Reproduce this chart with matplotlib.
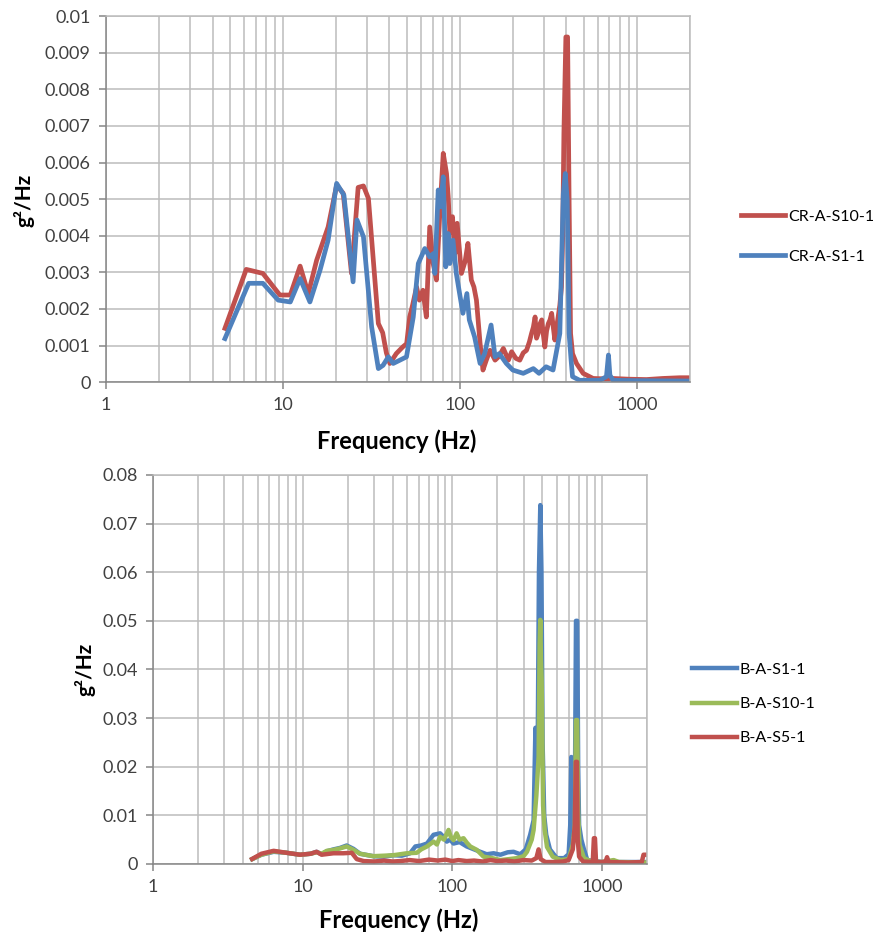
import matplotlib
matplotlib.use("Agg")
import matplotlib.pyplot as plt
from matplotlib.ticker import FixedLocator, FuncFormatter, LogLocator, NullFormatter

plt.rcParams["font.family"] = ["Lato", "DejaVu Sans"]

# upper chart: CR-A runs
cr_s10_freq = [4.7, 6.2, 7.7, 9.6, 11.0, 12.5, 13.9, 15.5, 18.0, 20.1, 21.9, 24.4, 26.6, 28.5,
               30.4, 34.6, 36.6, 38.4, 40.2, 43.7, 47.5, 50, 52, 54, 56.9, 59, 61.8, 64.6, 67.5,
               70.6, 73.7, 77, 80.5, 84, 85.9, 87.7, 90.8, 93.6, 96.5, 102, 107, 111, 116, 120,
               124, 130, 135, 141, 148, 158, 166, 176, 188, 196, 207, 218, 228, 238, 247, 254,
               260, 266, 271, 277, 284, 290, 296, 302, 309, 316, 323, 330, 337, 344, 352, 359,
               367, 375, 381, 387, 397, 406, 414, 422, 433, 456, 497, 566, 650, 734, 900, 1133,
               1400, 1750, 2000]
cr_s10_psd = [0.00147, 0.00308, 0.00297, 0.00238, 0.00238, 0.00317, 0.00242, 0.00333, 0.00424,
              0.00538, 0.00516, 0.00297, 0.00532, 0.00536, 0.00502, 0.0016, 0.00135, 0.0008,
              0.00051, 0.00078, 0.00096, 0.00105, 0.00178, 0.0021, 0.0026, 0.00224, 0.00251,
              0.00178, 0.00424, 0.00324, 0.00279, 0.00461, 0.00625, 0.0057, 0.00506, 0.00407,
              0.00452, 0.0035, 0.00434, 0.00297, 0.0033, 0.00379, 0.00279, 0.0026, 0.00224,
              0.00106, 0.00033, 0.0006, 0.00087, 0.0006, 0.0007, 0.00092, 0.0006, 0.00083,
              0.00065, 0.0006, 0.0008, 0.00087, 0.0011, 0.00133, 0.0015, 0.00178, 0.0012,
              0.00133, 0.0016, 0.0017, 0.0013, 0.00096, 0.0014, 0.0016, 0.0017, 0.00188, 0.0015,
              0.00115, 0.0015, 0.00178, 0.0021, 0.0026, 0.004, 0.0068, 0.00943, 0.00943, 0.005,
              0.00133, 0.00078, 0.00051, 0.00024, 0.0001, 0.00009, 0.0001, 0.00008, 0.00007,
              0.0001, 0.00012, 0.00012]

cr_s1_freq = [4.7, 6.4, 7.7, 9.4, 11.0, 12.5, 14.2, 16.2, 18.0, 20.1, 22.1, 24.9, 26.2, 28.5,
              31.7, 34.6, 36.8, 39.4, 42, 45.8, 49.9, 54.5, 58.2, 63.3, 67.5, 70.6, 72.2, 75.4,
              77.7, 80.5, 83.2, 85.9, 87.7, 91.4, 95.4, 99.6, 104, 109.5, 113, 121, 130, 138,
              150, 158, 167, 183, 199, 228, 260, 280, 307, 336, 367, 384, 394, 404, 414, 425,
              433, 475, 618, 673, 691, 704, 734, 1000, 2000]
cr_s1_psd = [0.00119, 0.0027, 0.0027, 0.00224, 0.00219, 0.00283, 0.00219, 0.00306, 0.00388,
             0.00543, 0.00511, 0.00274, 0.00443, 0.00397, 0.00151, 0.00037, 0.00046, 0.00069,
             0.00051, 0.0006, 0.00069, 0.00178, 0.00324, 0.00365, 0.00342, 0.00351, 0.00297,
             0.00525, 0.00479, 0.00561, 0.00315, 0.00406, 0.00324, 0.00388, 0.00297, 0.00242,
             0.00188, 0.00242, 0.0017, 0.00124, 0.00051, 0.00078, 0.00156, 0.00069, 0.00078,
             0.00051, 0.00033, 0.00024, 0.00037, 0.00024, 0.00042, 0.00033, 0.00133, 0.00515,
             0.0057, 0.00497, 0.00133, 0.0006, 0.00015, 0.00005, 0.00005, 0.00015, 0.00074,
             0.00019, 0.00005, 0.00004, 0.00003]

# lower chart: B-A runs
b_s1_freq = [4.6, 5.3, 6.4, 7.8, 9.6, 11.3, 12.4, 13.4, 14.5, 16.1, 17.8, 19.7, 21.9, 24.2,
             29.7, 35, 40.5, 46, 52.3, 56.7, 62, 67.8, 75, 83, 88, 92, 97, 102, 112, 125, 140,
             154, 170, 189, 210, 235, 257, 285, 310, 332, 350, 360, 372, 380, 388, 395, 402,
             412, 425, 450, 500, 560, 600, 615, 625, 640, 660, 672, 685, 695, 705, 730, 760,
             800, 1000, 1500, 2000]
b_s1_psd = [0.0010, 0.0019, 0.0025, 0.0023, 0.0019, 0.0021, 0.0025, 0.0020, 0.0026, 0.0030,
            0.0033, 0.0038, 0.0031, 0.0021, 0.0016, 0.0015, 0.0018, 0.0017, 0.0022, 0.0036,
            0.0038, 0.0042, 0.0060, 0.0063, 0.0055, 0.0046, 0.0050, 0.0042, 0.0045, 0.0036,
            0.0030, 0.0025, 0.0020, 0.0022, 0.0019, 0.0024, 0.0025, 0.0020, 0.0030, 0.0060,
            0.0090, 0.0280, 0.0200, 0.0600, 0.0738, 0.0600, 0.0250, 0.0100, 0.0060, 0.0030,
            0.0012, 0.0012, 0.0020, 0.0080, 0.0220, 0.0060, 0.0120, 0.0500, 0.0500, 0.0200,
            0.0080, 0.0050, 0.0030, 0.0008, 0.0004, 0.0004, 0.0004]

b_s10_freq = [4.6, 5.3, 6.4, 7.8, 9.6, 11.3, 12.4, 13.4, 14.5, 16.1, 17.8, 19.7, 21.9, 24.2,
              29.7, 35, 40.5, 49.8, 58, 62, 67.8, 75, 79, 83, 88, 94.5, 98, 102, 107, 112, 119,
              125, 132, 146, 162, 185, 210, 240, 271, 300, 316, 340, 350, 365, 378, 384, 388,
              392, 396, 400, 405, 415, 430, 470, 530, 600, 640, 660, 672, 684, 695, 710, 760,
              850, 1000, 1200, 1300, 2000]
b_s10_psd = [0.0010, 0.0019, 0.0026, 0.0023, 0.0019, 0.0021, 0.0024, 0.0021, 0.0027, 0.0029,
             0.0032, 0.0036, 0.0029, 0.0021, 0.0016, 0.0017, 0.0018, 0.0022, 0.0023, 0.0030,
             0.0036, 0.0046, 0.0040, 0.0056, 0.0050, 0.0070, 0.0055, 0.0049, 0.0063, 0.0050,
             0.0053, 0.0044, 0.0036, 0.0029, 0.0015, 0.0012, 0.0008, 0.0010, 0.0012, 0.0016,
             0.0025, 0.0050, 0.0070, 0.0140, 0.0220, 0.0450, 0.0502, 0.0420, 0.0380, 0.0260,
             0.0120, 0.0070, 0.0035, 0.0015, 0.0008, 0.0010, 0.0040, 0.0080, 0.0296, 0.0296,
             0.0100, 0.0040, 0.0012, 0.0005, 0.0004, 0.0008, 0.0004, 0.0003]

b_s5_freq = [4.6, 5.3, 6.4, 7.8, 9.6, 11.3, 12.4, 13.4, 16.1, 18.7, 21.3, 23, 25.6, 30, 35, 40,
             45, 52, 60, 70, 80, 90, 100, 110, 125, 140, 160, 180, 200, 230, 260, 300, 340,
             365, 378, 390, 420, 480, 550, 600, 640, 660, 670, 682, 690, 705, 750, 870, 885,
             900, 915, 1000, 1060, 1084, 1110, 1500, 1850, 1900, 2000]
b_s5_psd = [0.00103, 0.0021, 0.0027, 0.0023, 0.0019, 0.0021, 0.0025, 0.0019, 0.0022, 0.0022,
            0.0023, 0.0010, 0.0006, 0.0005, 0.0007, 0.0005, 0.0006, 0.0008, 0.0006, 0.0009,
            0.0007, 0.0009, 0.0006, 0.0008, 0.0006, 0.0007, 0.0005, 0.0008, 0.0006, 0.0007,
            0.0005, 0.0008, 0.0007, 0.0012, 0.0030, 0.0010, 0.0004, 0.0004, 0.0005, 0.0008,
            0.0030, 0.0080, 0.0210, 0.0210, 0.0050, 0.0015, 0.0005, 0.0004, 0.0053, 0.0053,
            0.0004, 0.0004, 0.0005, 0.0014, 0.0004, 0.0003, 0.0004, 0.0019, 0.0019]

RED = "#c0504d"
BLUE = "#4f81bd"
GREEN = "#9bbb59"
GRID = "#bcbcbc"
AXIS = "#868686"
TICK_TEXT = "#404040"


def excel_number(v, pos):
    return f"{v:.3f}".rstrip("0").rstrip(".") if v else "0"


def style_axes(ax, ymax, ystep):
    ax.set_xscale("log")
    ax.set_xlim(1, 2000)
    ax.set_ylim(0, ymax)
    n = int(round(ymax / ystep))
    ax.yaxis.set_major_locator(FixedLocator([i * ystep for i in range(n + 1)]))
    ax.yaxis.set_major_formatter(FuncFormatter(excel_number))
    ax.xaxis.set_major_locator(FixedLocator([1, 10, 100, 1000]))
    ax.xaxis.set_major_formatter(FuncFormatter(lambda v, p: f"{v:g}"))
    ax.xaxis.set_minor_locator(LogLocator(base=10, subs=range(2, 10)))
    ax.xaxis.set_minor_formatter(NullFormatter())
    ax.grid(True, which="both", axis="x", color=GRID, lw=1.1)
    ax.grid(True, which="major", axis="y", color=GRID, lw=1.1)
    ax.set_axisbelow(True)
    for side in ("top", "right"):
        ax.spines[side].set_color(GRID)
        ax.spines[side].set_linewidth(1.1)
    for side in ("left", "bottom"):
        ax.spines[side].set_color(AXIS)
        ax.spines[side].set_linewidth(1.1)
    ax.tick_params(which="major", direction="out", length=5, width=1.1, color=AXIS,
                   labelsize=13, labelcolor=TICK_TEXT, pad=6)
    ax.tick_params(which="minor", length=0)
    ax.set_xlabel("Frequency (Hz)", fontsize=17, fontweight="bold")
    ax.set_ylabel("g²/Hz", fontsize=15, fontweight="bold")


def add_legend(ax, x, y, spacing):
    ax.legend(loc="center left", bbox_to_anchor=(x, y), bbox_transform=fig.transFigure,
              frameon=False, fontsize=11.5, handlelength=2.8, handletextpad=0.2,
              labelspacing=spacing, borderpad=0, borderaxespad=0)


fig = plt.figure(figsize=(8.85, 9.32), dpi=100)

ax1 = fig.add_axes([0.1198, 0.590, 0.660, 0.3927])
ax1.plot(cr_s10_freq, cr_s10_psd, color=RED, lw=3.4, label="CR-A-S10-1")
ax1.plot(cr_s1_freq, cr_s1_psd, color=BLUE, lw=3.4, label="CR-A-S1-1")
style_axes(ax1, 0.01, 0.001)
ax1.xaxis.set_label_coords(0.498, -0.128)
ax1.yaxis.set_label_coords(-0.123, 0.497)
add_legend(ax1, 0.837, 0.746, 1.6)

ax2 = fig.add_axes([0.1729, 0.0730, 0.558, 0.4174])
ax2.plot(b_s1_freq, b_s1_psd, color=BLUE, lw=3.2, label="B-A-S1-1")
ax2.plot(b_s10_freq, b_s10_psd, color=GREEN, lw=3.2, label="B-A-S10-1")
ax2.plot(b_s5_freq, b_s5_psd, color=RED, lw=3.2, label="B-A-S5-1")
style_axes(ax2, 0.08, 0.01)
ax2.xaxis.set_label_coords(0.498, -0.113)
ax2.yaxis.set_label_coords(-0.117, 0.499)
add_legend(ax2, 0.782, 0.2446, 1.25)

fig.savefig("out.png", dpi=100)
